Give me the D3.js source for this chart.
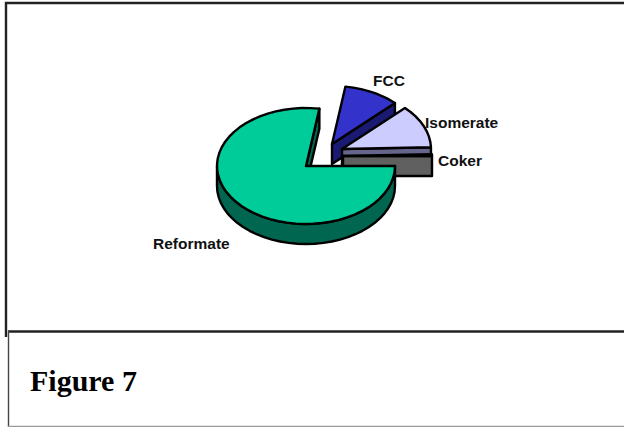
<!DOCTYPE html>
<html><head><meta charset="utf-8">
<script src="https://cdn.jsdelivr.net/npm/d3@7"></script>
<style>html,body{margin:0;padding:0;background:#fff}svg{display:block}</style></head>
<body><svg id="c" width="624" height="427"></svg>
<script>
const categories = ["Reformate","FCC","Isomerate","Coker"];
const values = [77.4,10.1,12.0,0.5];
const figureLabel = "Figure 7";

const topColors = ["#00cc99","#3333cc","#ccccff","#666666"];
const wallColors = ["#006650","#1a1a73","#66668c","#606060"];
const explode = [[0,0],[26,-22],[36,-17],[37,-10]];
const labelPos = [[153,249],[373,86],[425,128],[438,166]];
const cx=306, cy=166, rx=89, ry=58, depth=20;

const svg=d3.select("#c");
const frame=svg.append("g").attr("fill","none").attr("stroke","#222");
frame.append("path").attr("d","M6,337V3H624").attr("stroke-width",2.4);
frame.append("path").attr("d","M8,331.5H624").attr("stroke-width",2.4);
frame.append("path").attr("d","M8.5,331V427").attr("stroke-width",1.4).attr("stroke","#444");
frame.append("path").attr("d","M8,426.5H624").attr("stroke-width",1.4).attr("stroke","#999");

const arcs=d3.pie().sort(null).startAngle(Math.PI/2).endAngle(Math.PI/2+2*Math.PI)(values);
const sx=d3.scaleLinear().domain([-1,1]).range([-rx,rx]);
const sy=d3.scaleLinear().domain([-1,1]).range([ry,-ry]);
function pt(a,o,d=0){return [cx+o[0]+sx(Math.sin(a)),cy+o[1]+sy(Math.cos(a))+d];}
function rim(a0,a1,o,d=0){
  const n=Math.max(2,Math.ceil((a1-a0)/0.1));
  return d3.range(n+1).map(i=>pt(a0+(a1-a0)*i/n,o,d));
}
const line=d3.line();
[1,2,3,0].forEach(i=>{
  const A=arcs[i],o=explode[i];
  const g=svg.append("g").attr("stroke","#000").attr("stroke-width",2.4).attr("stroke-linejoin","round");
  const apex=[cx+o[0],cy+o[1]];
  const apexD=[apex[0],apex[1]+depth];
  const wall=(pts)=>g.append("path").attr("d",line(pts)+"Z").attr("fill",wallColors[i]);
  if(i===0){
    wall([pt(A.endAngle,o),pt(A.endAngle,o,depth),apexD,apex]);
    const a0=A.startAngle,a1=Math.PI*1.5;
    wall(rim(a0,a1,o).concat(rim(a0,a1,o,depth).reverse()));
  } else {
    wall([apex,pt(A.endAngle,o),pt(A.endAngle,o,depth),apexD]);
  }
  g.append("path").attr("d",line([apex].concat(rim(A.startAngle,A.endAngle,o)))+"Z").attr("fill",topColors[i]);
});
svg.append("g").selectAll("text").data(categories).join("text")
  .attr("x",(d,i)=>labelPos[i][0]).attr("y",(d,i)=>labelPos[i][1])
  .attr("font-family","'Liberation Sans',Arial,sans-serif").attr("font-weight","bold").attr("font-size",15.5).attr("fill","#111")
  .text(d=>d);
svg.append("text").attr("x",30).attr("y",391).attr("font-family","'Liberation Serif',serif").attr("font-weight","bold").attr("font-size",30).attr("fill","#000").text(figureLabel);
</script></body></html>
